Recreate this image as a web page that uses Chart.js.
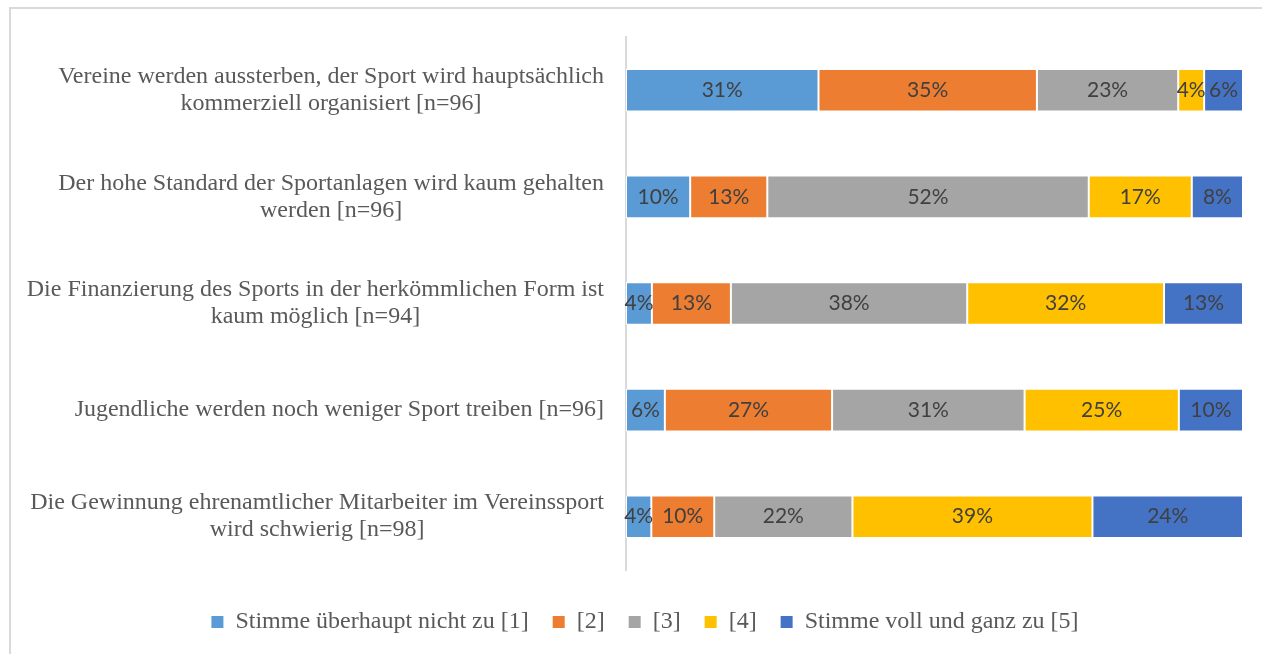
<!DOCTYPE html>
<html>
<head>
<meta charset="utf-8">
<script src="https://cdn.jsdelivr.net/npm/chart.js@4"></script>
<style>
  html, body { margin: 0; padding: 0; background: #fff; }
  #wrap { position: relative; width: 1262px; height: 654px; overflow: hidden; }
  #frame { position: absolute; left: 9px; top: 7px; width: 1400px; height: 800px;
           border-top: 2px solid #d9d9d9; border-left: 2px solid #d9d9d9; }
  canvas { position: absolute; left: 0; top: 0; }
</style>
</head>
<body>
<div id="wrap">
  <div id="frame"></div>
  <canvas id="myChart" width="1262" height="654"></canvas>
</div>
<script>
// statements (each one split into display lines)
const categories = [
  ["Vereine werden aussterben, der Sport wird hauptsächlich", "kommerziell organisiert [n=96]"],
  ["Der hohe Standard der Sportanlagen wird kaum gehalten", "werden [n=96]"],
  ["Die Finanzierung des Sports in der herkömmlichen Form ist", "kaum möglich [n=94]"],
  ["Jugendliche werden noch weniger Sport treiben [n=96]"],
  ["Die Gewinnung ehrenamtlicher Mitarbeiter im Vereinssport", "wird schwierig [n=98]"],
];

const seriesNames = ["Stimme überhaupt nicht zu [1]", "[2]", "[3]", "[4]", "Stimme voll und ganz zu [5]"];

// shares in percent
const answer1 = [31.2, 10.4, 4.2, 6.3, 4.1];
const answer2 = [35.4, 12.5, 12.8, 27.1, 10.2];
const answer3 = [22.9, 52.1, 38.3, 31.2, 22.4];
const answer4 = [4.2, 16.7, 31.9, 25.0, 38.9];
const answer5 = [6.3, 8.3, 12.8, 10.4, 24.4];

const colors = ["#5B9BD5", "#ED7D31", "#A5A5A5", "#FFC000", "#4472C4"];
const series = [answer1, answer2, answer3, answer4, answer5];

const serif = '"Liberation Serif", "Times New Roman", serif';

// percent labels in the middle of each segment
const barLabels = {
  id: "barLabels",
  afterDatasetsDraw(chart) {
    const ctx = chart.ctx;
    ctx.save();
    ctx.font = '21px Lato, "Open Sans", sans-serif';
    ctx.fillStyle = "#404040";
    ctx.textAlign = "center";
    ctx.textBaseline = "middle";
    chart.data.datasets.forEach((ds, di) => {
      chart.getDatasetMeta(di).data.forEach((bar, i) => {
        const p = bar.getCenterPoint();
        ctx.fillText(Math.round(ds.data[i]) + "%", p.x, p.y);
      });
    });
    ctx.restore();
  },
};

// category labels: block right aligned, lines centred inside the block
const catLabels = {
  id: "catLabels",
  afterDraw(chart) {
    const sc = chart.scales.y;
    const ctx = chart.ctx;
    ctx.save();
    ctx.font = "24px " + serif;
    ctx.fillStyle = "#595959";
    ctx.textAlign = "center";
    ctx.textBaseline = "middle";
    categories.forEach((lines, i) => {
      const y = sc.getPixelForValue(i);
      const w = Math.max(...lines.map((t) => ctx.measureText(t).width));
      const cx = sc.right - 22 - w / 2;
      lines.forEach((t, k) => {
        ctx.fillText(t, cx, y + (k - (lines.length - 1) / 2) * 27);
      });
    });
    ctx.restore();
  },
};

const ctx = document.getElementById("myChart");

new Chart(ctx, {
  type: "bar",
  data: {
    labels: categories,
    datasets: series.map((vals, i) => ({
      label: seriesNames[i],
      data: vals,
      backgroundColor: colors[i],
      borderColor: "#ffffff",
      borderWidth: 1,
      borderSkipped: false,
      barPercentage: 0.4,
      categoryPercentage: 1,
    })),
  },
  options: {
    indexAxis: "y",
    responsive: false,
    animation: false,
    layout: { padding: { left: 47, right: 19, top: 37, bottom: 10 } },
    scales: {
      x: {
        stacked: true,
        min: 0,
        max: 100,
        display: true,
        grid: { display: false },
        border: { display: false },
        ticks: { display: false },
        afterFit: (s) => { s.height = 16; },
      },
      y: {
        stacked: true,
        grid: { display: false },
        border: { color: "#d9d9d9", width: 2 },
        ticks: { display: false },
        afterFit: (s) => { s.width = 579; },
      },
    },
    plugins: {
      legend: {
        position: "bottom",
        labels: {
          font: { family: serif, size: 24 },
          color: "#595959",
          boxWidth: 12,
          boxHeight: 12,
          padding: 24,
          generateLabels: (chart) => {
            const items = Chart.defaults.plugins.legend.labels.generateLabels(chart);
            items.forEach((it) => { it.lineWidth = 0; });
            return items;
          },
        },
      },
      tooltip: { enabled: false },
    },
  },
  plugins: [barLabels, catLabels],
});
</script>
</body>
</html>
